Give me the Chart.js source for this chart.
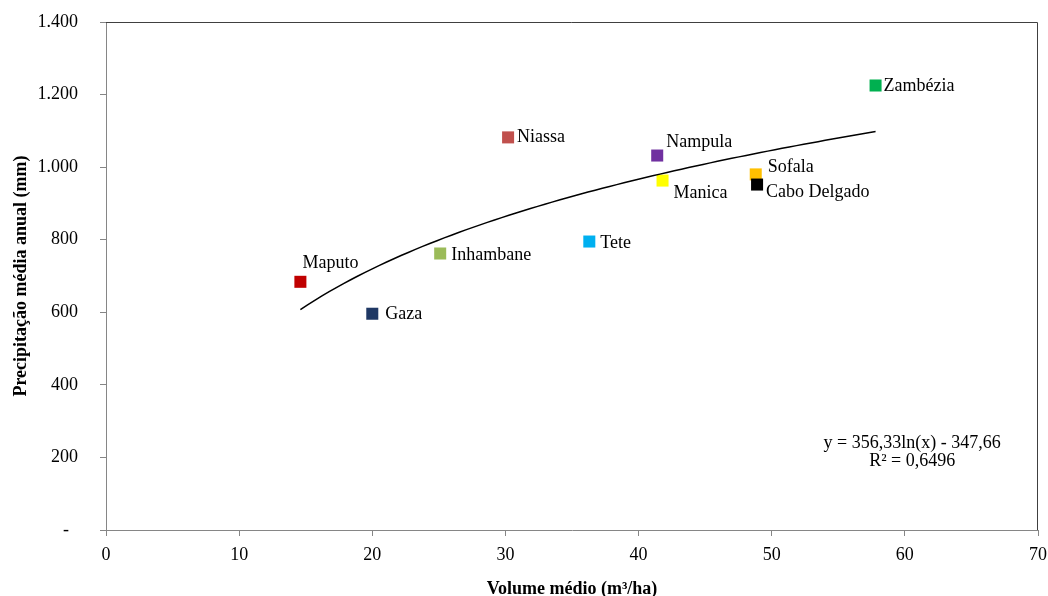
<!DOCTYPE html>
<html>
<head>
<meta charset="utf-8">
<script src="https://cdn.jsdelivr.net/npm/chart.js@4.4.1/dist/chart.umd.min.js"></script>
<style>
  html, body { margin: 0; padding: 0; background: #fff; }
  canvas { display: block; }
</style>
</head>
<body>
<canvas id="chart" width="1048" height="596"></canvas>
<script>
// Mean timber volume per hectare vs mean annual rainfall, by province
const provinces = ['Maputo', 'Gaza', 'Inhambane', 'Niassa', 'Tete', 'Nampula', 'Manica', 'Sofala', 'Cabo Delgado', 'Zambézia'];
const volume    = [14.6, 20.0, 25.1, 30.2, 36.3, 41.4, 41.8, 48.8, 48.9, 57.8];
const rainfall  = [684, 596, 762, 1082, 795, 1032, 963, 980, 952, 1225];
const colours   = ['#C00000', '#1F3864', '#9BBB59', '#C0504D', '#00B0F0', '#7030A0', '#FFFF00', '#FFC000', '#000000', '#00B050'];

// Logarithmic trend: y = a·ln(x) + b
const trendA = 356.33;
const trendB = -347.66;
const equationLines = ['y = 356,33ln(x) - 347,66', 'R² = 0,6496'];

const xTicks = [0, 10, 20, 30, 40, 50, 60, 70];
const yTicks = [0, 200, 400, 600, 800, 1000, 1200, 1400];

// Where each province name sits relative to its marker (px)
const labelOffsets = {
  'Maputo': [2, -19], 'Gaza': [13, 1], 'Inhambane': [11, 2], 'Niassa': [9, 0],
  'Tete': [11, 2], 'Nampula': [9, -13], 'Manica': [11, 13], 'Sofala': [12, -7],
  'Cabo Delgado': [9, 8], 'Zambézia': [8, 1]
};

const SERIF = "'Liberation Serif', 'Times New Roman', serif";

const points = provinces.map((p, i) => ({ x: volume[i], y: rainfall[i] }));

const xMin = Math.min(...volume), xMax = Math.max(...volume);
const trendPoints = [];
const steps = 80;
for (let k = 0; k <= steps; k++) {
  const x = xMin + (xMax - xMin) * k / steps;
  trendPoints.push({ x, y: trendA * Math.log(x) + trendB });
}

function fmtThousands(v) {
  if (v === 0) return '-  ';
  return String(v).replace(/\B(?=(\d{3})+(?!\d))/g, '.');
}

const frameAndLabels = {
  id: 'frameAndLabels',
  afterDatasetsDraw(chart) {
    const { ctx, chartArea: a, scales } = chart;
    ctx.save();
    // top and right edges of the plot frame
    ctx.strokeStyle = '#404040';
    ctx.lineWidth = 1;
    ctx.beginPath();
    ctx.moveTo(a.left, a.top + 0.5);
    ctx.lineTo(a.right - 0.5, a.top + 0.5);
    ctx.lineTo(a.right - 0.5, a.bottom);
    ctx.stroke();

    // province names
    ctx.font = '18px ' + SERIF;
    ctx.fillStyle = '#000';
    ctx.textAlign = 'left';
    ctx.textBaseline = 'middle';
    const meta = chart.getDatasetMeta(1);
    meta.data.forEach((el, i) => {
      const off = labelOffsets[provinces[i]] || [10, 0];
      ctx.fillText(provinces[i], el.x + off[0], el.y + off[1]);
    });

    // trend equation
    ctx.textAlign = 'center';
    const ex = scales.x.getPixelForValue(60.55);
    const ey = scales.y.getPixelForValue(240);
    equationLines.forEach((t, i) => ctx.fillText(t, ex, ey + i * 18));
    ctx.restore();
  }
};

new Chart(document.getElementById('chart'), {
  type: 'scatter',
  data: {
    datasets: [
      {
        type: 'line',
        data: trendPoints,
        borderColor: '#000',
        borderWidth: 1.5,
        pointRadius: 0,
        tension: 0,
        fill: false
      },
      {
        data: points,
        pointStyle: 'rect',
        pointRadius: 8.5,
        pointBackgroundColor: colours,
        pointBorderColor: colours,
        pointBorderWidth: 0
      }
    ]
  },
  options: {
    responsive: false,
    animation: false,
    devicePixelRatio: 1,
    layout: { padding: { top: 22, right: 10, left: 0, bottom: 0 } },
    plugins: { legend: { display: false }, tooltip: { enabled: false } },
    scales: {
      x: {
        type: 'linear',
        min: 0, max: 70,
        afterBuildTicks: s => { s.ticks = xTicks.map(v => ({ value: v })); },
        afterFit: s => { s.height = 66; s.paddingLeft = 0; s.paddingRight = 0; },
        grid: { drawOnChartArea: false, drawTicks: true, tickLength: 6, color: '#868686', lineWidth: 1 },
        border: { color: '#868686', width: 1 },
        ticks: { color: '#000', padding: 8, font: { family: SERIF, size: 18 }, maxRotation: 0 },
        title: {
          display: true, text: 'Volume médio (m³/ha)', color: '#000',
          font: { family: SERIF, size: 18, weight: 'bold', lineHeight: 1 },
          padding: { top: 0, bottom: -2 }
        }
      },
      y: {
        type: 'linear',
        min: 0, max: 1400,
        afterBuildTicks: s => { s.ticks = yTicks.map(v => ({ value: v })); },
        afterFit: s => { s.width = 106; s.paddingTop = 0; s.paddingBottom = 0; },
        grid: { drawOnChartArea: false, drawTicks: true, tickLength: 6, color: '#868686', lineWidth: 1 },
        border: { color: '#868686', width: 1 },
        ticks: { color: '#000', padding: 22, font: { family: SERIF, size: 18 }, callback: v => fmtThousands(v) },
        title: {
          display: true, text: 'Precipitação média anual (mm)', color: '#000',
          font: { family: SERIF, size: 18, weight: 'bold', lineHeight: 1 },
          padding: { top: 12, bottom: 0 }
        }
      }
    }
  },
  plugins: [frameAndLabels]
});
</script>
</body>
</html>
